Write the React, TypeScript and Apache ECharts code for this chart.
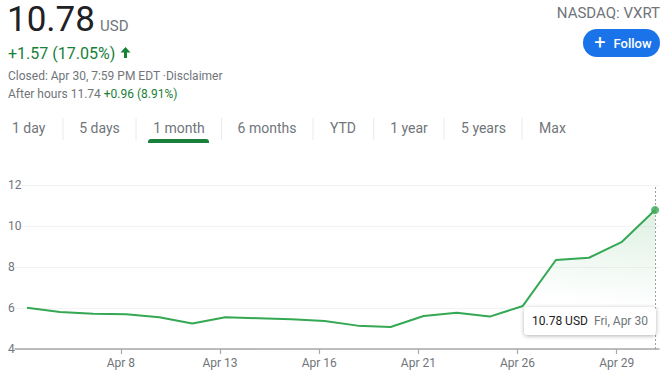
import React, { useEffect, useRef } from "react";
import * as echarts from "echarts";

const dates = [
  "Apr 5", "Apr 6", "Apr 7", "Apr 8", "Apr 9",
  "Apr 12", "Apr 13", "Apr 14", "Apr 15", "Apr 16",
  "Apr 19", "Apr 20", "Apr 21", "Apr 22", "Apr 23",
  "Apr 26", "Apr 27", "Apr 28", "Apr 29", "Apr 30",
];
const prices = [
  6.01, 5.8, 5.72, 5.69, 5.55,
  5.24, 5.55, 5.5, 5.45, 5.37,
  5.14, 5.07, 5.61, 5.77, 5.58,
  6.1, 8.34, 8.45, 9.23, 10.78,
];
const tickDates = ["Apr 8", "Apr 13", "Apr 16", "Apr 21", "Apr 26", "Apr 29"];
const yMin = 4;
const yMax = 12;
const yStep = 2;

const tabLabels = ["1 day", "5 days", "1 month", "6 months", "YTD", "1 year", "5 years", "Max"];
const tabCenters = [28.7, 99.5, 179, 267, 343, 409, 483.5, 552.5];
const tabSeparators = [63, 136, 221.5, 313, 373.7, 444, 522];

const GREEN_LINE = "#34a853";
const GREEN_TEXT = "#188038";
const GRAY = "#70757a";
const DARK = "#202124";
// ticks sit at the start of each trading day, a little before the close point
const TICK_SHIFT = 0.16;

export default function App() {
  const ref = useRef<HTMLDivElement>(null);

  useEffect(() => {
    if (!ref.current) return;
    const chart = echarts.init(ref.current, undefined, { renderer: "svg" });
    const last = prices.length - 1;
    const tickIdx = tickDates.map((d) => dates.indexOf(d) - TICK_SHIFT);

    const txt = (text: string, x: number, y: number, font: string, fill: string, align = "left") => ({
      type: "text",
      x,
      y,
      style: { text, font, fill, textAlign: align, align, textVerticalAlign: "middle", verticalAlign: "middle" },
    });

    const graphics: any[] = [
      txt(String(prices[last]), 7, 19, "400 35px Roboto", DARK),
      txt("USD", 100, 26, "400 15px Roboto", GRAY),
      txt("+1.57 (17.05%)", 8, 53, "400 16px Roboto", GREEN_TEXT),
      {
        type: "polygon",
        shape: { points: [[125.5, 47], [130.5, 52.5], [127, 52.5], [127, 58], [124, 58], [124, 52.5], [120.5, 52.5]] },
        style: { fill: GREEN_TEXT },
      },
      txt("Closed: Apr 30, 7:59 PM EDT ·Disclaimer", 8, 76, "400 12px Roboto", GRAY),
      {
        type: "text",
        x: 8,
        y: 93.5,
        style: {
          text: "{a|After hours 11.74 }{b|+0.96 (8.91%)}",
          textVerticalAlign: "middle",
          verticalAlign: "middle",
          rich: {
            a: { fill: GRAY, font: "400 12px Roboto", color: GRAY, fontSize: 12, fontFamily: "Roboto" },
            b: { fill: GREEN_TEXT, font: "400 12px Roboto", color: GREEN_TEXT, fontSize: 12, fontFamily: "Roboto" },
          },
        },
      },
      txt("NASDAQ: VXRT", 660, 12.5, "400 15px Roboto", GRAY, "right"),
      {
        type: "rect",
        shape: { x: 583, y: 29, width: 77, height: 28, r: 14 },
        style: { fill: "#1a73e8" },
      },
      txt("+", 600, 42, "400 20px Roboto", "#ffffff", "center"),
      txt("Follow", 613.5, 43, "500 13px Roboto", "#ffffff"),
      {
        type: "rect",
        shape: { x: 148, y: 139, width: 61, height: 4, r: [3, 3, 0, 0] },
        style: { fill: GREEN_TEXT },
      },
      {
        type: "rect",
        shape: { x: 524, y: 307, width: 132, height: 28, r: 4 },
        style: { fill: "#ffffff", shadowBlur: 4, shadowColor: "rgba(0,0,0,0.3)", shadowOffsetY: 1 },
        z: 100,
      },
      { ...txt(`${prices[last]} USD`, 532, 321, "400 12px Roboto", DARK), z: 101 },
      { ...txt(`Fri, ${dates[last]}`, 594, 321, "400 12px Roboto", GRAY), z: 101 },
    ];
    tabLabels.forEach((t, i) => {
      graphics.push(txt(t, tabCenters[i], 127.5, "400 14px Roboto", GRAY, "center"));
    });
    tabSeparators.forEach((x) => {
      graphics.push({
        type: "line",
        shape: { x1: x, y1: 118, x2: x, y2: 140 },
        style: { stroke: "#e8eaed", lineWidth: 1 },
      });
    });

    chart.setOption({
      animation: false,
      textStyle: { fontFamily: "Roboto" },
      grid: { left: 15, right: 9, top: 185, bottom: 33 },
      xAxis: {
        type: "value",
        min: -0.363,
        max: last + 0.12,
        axisLine: { show: true, lineStyle: { color: "#a8a8a8", width: 1.5 } },
        axisTick: { show: true, length: 5, lineStyle: { color: "#a8a8a8", width: 1.2 }, customValues: tickIdx },
        axisLabel: {
          customValues: tickIdx,
          color: GRAY,
          fontSize: 12,
          margin: 8,
          formatter: (v: number) => dates[Math.round(v)] ?? "",
        },
        splitLine: { show: false },
      },
      yAxis: {
        type: "value",
        min: yMin,
        max: yMax,
        interval: yStep,
        axisLine: { show: false },
        axisTick: { show: false },
        axisLabel: { color: GRAY, fontSize: 12, align: "left", margin: 7 },
        splitLine: { lineStyle: { color: "#f3f3f3", width: 1 } },
      },
      series: [
        {
          type: "line",
          data: prices.map((v, i) => [i, v]),
          symbol: "none",
          lineStyle: { color: GREEN_LINE, width: 2 },
          itemStyle: { color: GREEN_LINE },
          areaStyle: {
            color: new echarts.graphic.LinearGradient(1, 0, 0.55, 1, [
              { offset: 0, color: "rgba(52,168,83,0.24)" },
              { offset: 0.6, color: "rgba(52,168,83,0)" },
              { offset: 1, color: "rgba(52,168,83,0)" },
            ]),
          },
          markLine: {
            silent: true,
            symbol: "none",
            label: { show: false },
            lineStyle: { color: "#9aa0a6", width: 1, type: [2, 2] },
            data: [{ xAxis: last }],
          },
        },
        {
          type: "scatter",
          data: [[last, prices[last]]],
          symbol: "circle",
          symbolSize: 8,
          itemStyle: { color: GREEN_LINE },
          z: 5,
        },
      ],
      graphic: graphics,
    });
    return () => chart.dispose();
  }, []);

  return (
    <div
      ref={ref}
      style={{ position: "absolute", left: 0, top: 0, width: 668, height: 382, background: "#fff" }}
    />
  );
}
